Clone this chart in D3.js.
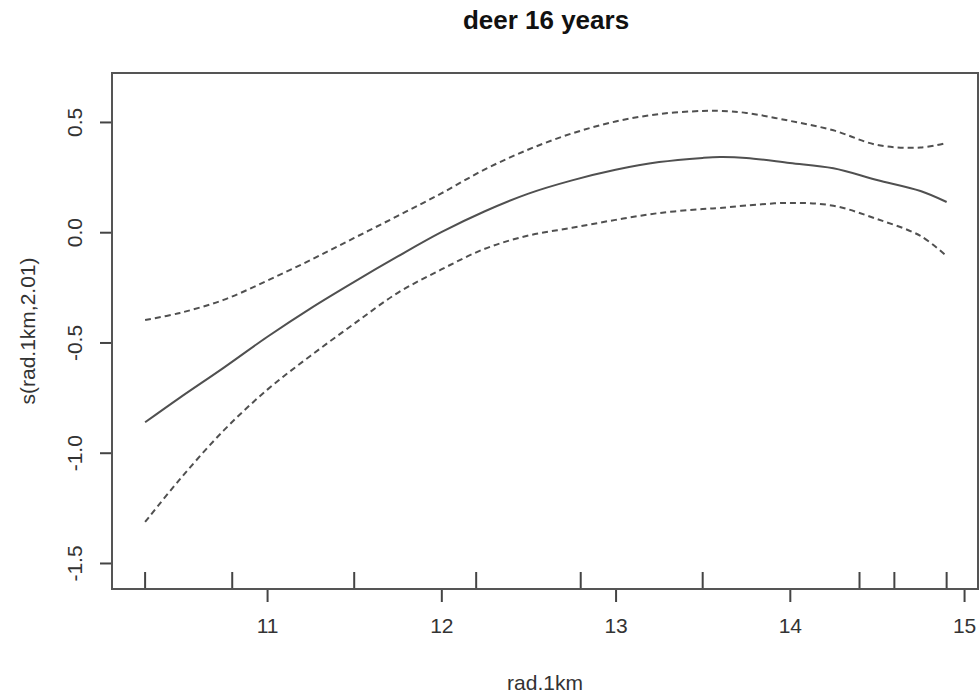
<!DOCTYPE html>
<html>
<head>
<meta charset="utf-8">
<script src="https://cdn.jsdelivr.net/npm/d3@7"></script>
<style>
  body { margin: 0; background: #fff; }
  text { font-family: "Liberation Sans", Arial, sans-serif; }
</style>
</head>
<body>
<div id="chart-container"></div>
<script>
const radValues = [10.3, 10.5, 10.75, 11, 11.25, 11.5, 11.75, 12, 12.25, 12.5, 12.75,
                   13, 13.25, 13.5, 13.6, 13.75, 14, 14.25, 14.5, 14.75, 14.9];
// fitted smooth s(rad.1km,2.01)
const fitValues = [-0.862, -0.75, -0.615, -0.475, -0.345, -0.225, -0.11, 0.0, 0.095, 0.175, 0.235,
                   0.283, 0.318, 0.337, 0.341, 0.337, 0.314, 0.29, 0.237, 0.187, 0.137];
// upper and lower 2se bands (dashed)
const upperValues = [-0.398, -0.366, -0.307, -0.22, -0.126, -0.026, 0.074, 0.176, 0.285, 0.375, 0.448,
                     0.502, 0.536, 0.55, 0.55, 0.541, 0.505, 0.462, 0.396, 0.384, 0.405];
const lowerValues = [-1.314, -1.12, -0.90, -0.715, -0.56, -0.415, -0.275, -0.169, -0.075, -0.015, 0.02,
                     0.056, 0.087, 0.105, 0.11, 0.121, 0.133, 0.12, 0.06, -0.017, -0.108];
// rug of observed rad.1km
const rugValues = [10.3, 10.8, 11.5, 12.2, 12.8, 13.5, 14.4, 14.6, 14.9];
// tick labels
const xTicks = [11, 12, 13, 14, 15];
const yTicks = [-1.5, -1.0, -0.5, 0.0, 0.5];

const W = 980, H = 696;
const box = { left: 112, right: 978, top: 73, bottom: 589 };

const svg = d3.select("#chart-container")
    .append("svg")
    .attr("width", W)
    .attr("height", H);

const x = d3.scaleLinear().domain([10.11, 15.08]).range([box.left, box.right]);
const y = d3.scaleLinear().domain([-1.618, 0.722]).range([box.bottom, box.top]);

const lineCol = "#505050";

// curves
const line = d3.line()
    .x(d => x(d[0]))
    .y(d => y(d[1]))
    .curve(d3.curveCatmullRom);

const series = [
    { vals: fitValues, dash: null },
    { vals: upperValues, dash: "6,4" },
    { vals: lowerValues, dash: "6,4" }
];

svg.selectAll("path.curve")
    .data(series)
    .enter()
    .append("path")
    .attr("class", "curve")
    .attr("d", s => line(radValues.map((r, i) => [r, s.vals[i]])))
    .attr("fill", "none")
    .attr("stroke", lineCol)
    .attr("stroke-width", 2)
    .attr("stroke-dasharray", s => s.dash);

// rug
svg.selectAll("line.rug")
    .data(rugValues)
    .enter()
    .append("line")
    .attr("class", "rug")
    .attr("x1", d => x(d)).attr("x2", d => x(d))
    .attr("y1", box.bottom).attr("y2", box.bottom - 17)
    .attr("stroke", "#444")
    .attr("stroke-width", 2);

// x axis
const xAxis = svg.append("g")
    .attr("transform", "translate(0," + box.bottom + ")")
    .call(d3.axisBottom(x).tickValues(xTicks).tickSize(13).tickPadding(16).tickFormat(d => String(d)));
xAxis.select(".domain").remove();
xAxis.selectAll("line").attr("stroke", "#444").attr("stroke-width", 2);
xAxis.selectAll("text")
    .style("font-size", "21px")
    .attr("fill", "#333");

// y axis (hyphen minus like R, not unicode minus)
const yAxis = svg.append("g")
    .attr("transform", "translate(" + box.left + ",0)")
    .call(d3.axisLeft(y).tickValues(yTicks).tickSize(12).tickFormat(d => d.toFixed(1)));
yAxis.select(".domain").remove();
yAxis.selectAll("line").attr("stroke", "#444").attr("stroke-width", 2);
yAxis.selectAll("text")
    .attr("x", 0).attr("dy", 0)
    .attr("text-anchor", "middle")
    .attr("transform", "translate(-30,0) rotate(-90)")
    .style("font-size", "21px")
    .attr("fill", "#333");

// frame
svg.append("rect")
    .attr("x", box.left).attr("y", box.top)
    .attr("width", box.right - box.left).attr("height", box.bottom - box.top)
    .attr("fill", "none")
    .attr("stroke", "#555")
    .attr("stroke-width", 2);

// title
svg.append("text")
    .attr("x", 546)
    .attr("y", 29)
    .attr("text-anchor", "middle")
    .style("font-size", "26px")
    .style("font-weight", "bold")
    .attr("fill", "#111")
    .text("deer 16 years");

// axis titles
svg.append("text")
    .attr("x", (box.left + box.right) / 2)
    .attr("y", 690)
    .attr("text-anchor", "middle")
    .style("font-size", "21px")
    .attr("fill", "#333")
    .text("rad.1km");

svg.append("text")
    .attr("transform", "translate(35," + (box.top + box.bottom) / 2 + ") rotate(-90)")
    .attr("text-anchor", "middle")
    .style("font-size", "21px")
    .attr("fill", "#333")
    .text("s(rad.1km,2.01)");
</script>
</body>
</html>
